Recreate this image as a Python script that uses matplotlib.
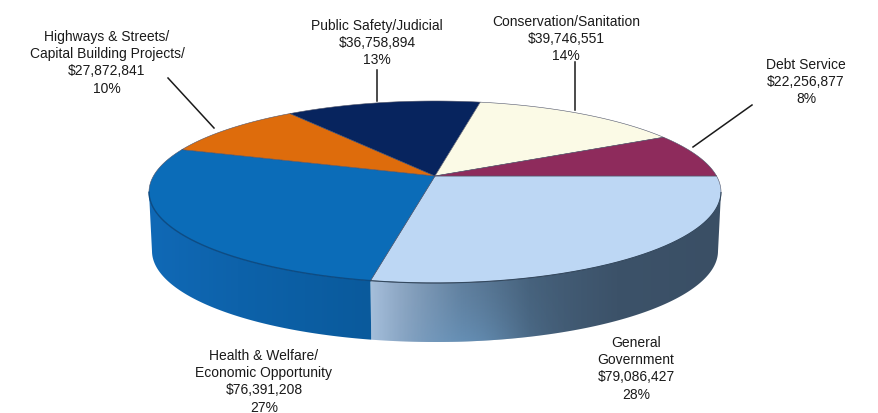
#!/usr/bin/env python3
"""Expenditure breakdown drawn as a tilted pie with a gradient rim."""

import numpy as np
import matplotlib
matplotlib.use('Agg')
import matplotlib.pyplot as plt
from matplotlib.colors import LinearSegmentedColormap, to_rgb
from matplotlib.patches import Polygon

plt.rcParams['font.family'] = ['Liberation Sans', 'DejaVu Sans']

# ── data ──────────────────────────────────────────────────────────────────────
names = ['General\nGovernment',
         'Health & Welfare/\nEconomic Opportunity',
         'Highways & Streets/\nCapital Building Projects/',
         'Public Safety/Judicial',
         'Conservation/Sanitation',
         'Debt Service']
amounts = [79086427, 76391208, 27872841, 36758894, 39746551, 22256877]

# ── styling ───────────────────────────────────────────────────────────────────
top_colors = ['#bdd7f4', '#0b6cb8', '#de6c0c', '#07245e', '#fbfae6', '#8e2b5c']
label_x = [636, 264, 107, 377, 566, 806]
label_y = [343, 356, 37, 26, 22, 65]
leaders = [None, None,
           ((168, 78), (214, 128)),
           ((377, 70), (377, 101)),
           ((575, 62), (575, 110)),
           ((693, 147), (752, 105))]

# pixel geometry of the tilted disc
CX, CY, RX, RY = 435.0, 192.0, 286.0, 91.0
APEX_SHIFT = 0.176     # the slices meet above the ellipse centre (perspective)
DEPTH = 59.0
LINE_H = 17.2


def project(theta):
    """Unit circle angle (rad) -> pixel coords on the tilted disc."""
    x, y = np.cos(theta), np.sin(theta)
    e = APEX_SHIFT
    xp = x * np.sqrt(1 - e ** 2) / (1 + e * y)
    yp = (y + e) / (1 + e * y)
    return CX + RX * xp, CY - RY * yp


def rim_gradient(ax, poly_xy, stops, glow=None):
    """Fill a rim section with a horizontal gradient, optional glow along the bottom."""
    x0, x1 = poly_xy[:, 0].min(), poly_xy[:, 0].max()
    ymin, ymax = poly_xy[:, 1].min(), poly_xy[:, 1].max()
    cmap = LinearSegmentedColormap.from_list('rim', stops)
    grad = np.linspace(0, 1, 256).reshape(1, -1)
    images = [ax.imshow(grad, cmap=cmap, extent=(x0, x1, ymax, ymin),
                        aspect='auto', zorder=1, interpolation='bilinear')]
    if glow is not None:
        color, xc, xw = glow
        xs = np.linspace(x0, x1, 256)
        ys = np.linspace(0, 1, 64)
        alpha = np.outer(ys ** 3, np.exp(-((xs - xc) / xw) ** 2)) * 0.45
        rgba = np.zeros((64, 256, 4))
        rgba[..., :3] = to_rgb(color)
        rgba[..., 3] = alpha
        images.append(ax.imshow(rgba, extent=(x0, x1, ymax, ymin), aspect='auto',
                                zorder=1.1, interpolation='bilinear'))
    clip = Polygon(poly_xy, closed=True, transform=ax.transData,
                   facecolor='none', edgecolor='none')
    ax.add_patch(clip)
    for im in images:
        im.set_clip_path(clip)


fig = plt.figure(figsize=(8.79, 4.13), dpi=100)
ax = fig.add_axes([0, 0, 1, 1])

# start at 3 o'clock and run clockwise
shares = np.array(amounts, dtype=float) / sum(amounts)
edges = -2 * np.pi * np.concatenate(([0], np.cumsum(shares)))

rim_stops = {
    0: [(0.0, '#a6bfdb'), (0.1, '#8aa3bf'), (0.26, '#5f7c99'), (0.45, '#46617b'),
        (0.7, '#3c5269'), (1.0, '#3a4f65')],
    1: [(0.0, '#1069b6'), (0.4, '#0d62aa'), (1.0, '#0a5a9c')],
}
rim_glow = {0: ('#6ea6d6', 465, 60), 1: None}

# ── rim (only the front part of the disc is visible) ──────────────────────────
for i in rim_stops:
    t = np.linspace(edges[i], edges[i + 1], 300)
    px, py = project(t)
    front = py >= CY
    px, py = px[front], py[front]
    # the lower outline is a slightly narrower copy of the upper one
    qx = CX + (px - CX) * (RX - 3) / RX
    qy = py + DEPTH
    poly = np.vstack((np.column_stack((px, py)),
                      np.column_stack((qx, qy))[::-1]))
    rim_gradient(ax, poly, rim_stops[i], rim_glow[i])

# ── top face ──────────────────────────────────────────────────────────────────
apex = project(np.array([0.0, np.pi]))[0].mean(), CY - RY * APEX_SHIFT
for i, color in enumerate(top_colors):
    t = np.linspace(edges[i], edges[i + 1], 200)
    px, py = project(t)
    pts = np.vstack(([apex], np.column_stack((px, py))))
    ax.add_patch(Polygon(pts, closed=True, facecolor=color, edgecolor='#50556a',
                         linewidth=0.4, joinstyle='round', zorder=2))

# darker line where the top face meets the rim
t = np.linspace(edges[1], edges[2], 300)
px, py = project(t)
ax.plot(px[py >= CY], py[py >= CY], color='#0a4c86', lw=1.0, zorder=3)
t = np.linspace(edges[0], edges[1], 300)
px, py = project(t)
ax.plot(px[py >= CY], py[py >= CY], color='#33495f', lw=0.8, zorder=3)

# ── labels and leaders ────────────────────────────────────────────────────────
for i, name in enumerate(names):
    lines = name.split('\n') + [f'${amounts[i]:,}', f'{shares[i] * 100:.0f}%']
    for k, line in enumerate(lines):
        ax.text(label_x[i], label_y[i] + k * LINE_H, line, ha='center', va='center',
                fontsize=10, color='#1a1a1a', zorder=5)
    if leaders[i] is not None:
        (x0, y0), (x1, y1) = leaders[i]
        ax.plot([x0, x1], [y0, y1], color='#1a1a1a', lw=1.1, zorder=4)

ax.set_xlim(0, 879)
ax.set_ylim(413, 0)
ax.axis('off')

fig.savefig('out.png', dpi=100, facecolor='white')
plt.close(fig)
